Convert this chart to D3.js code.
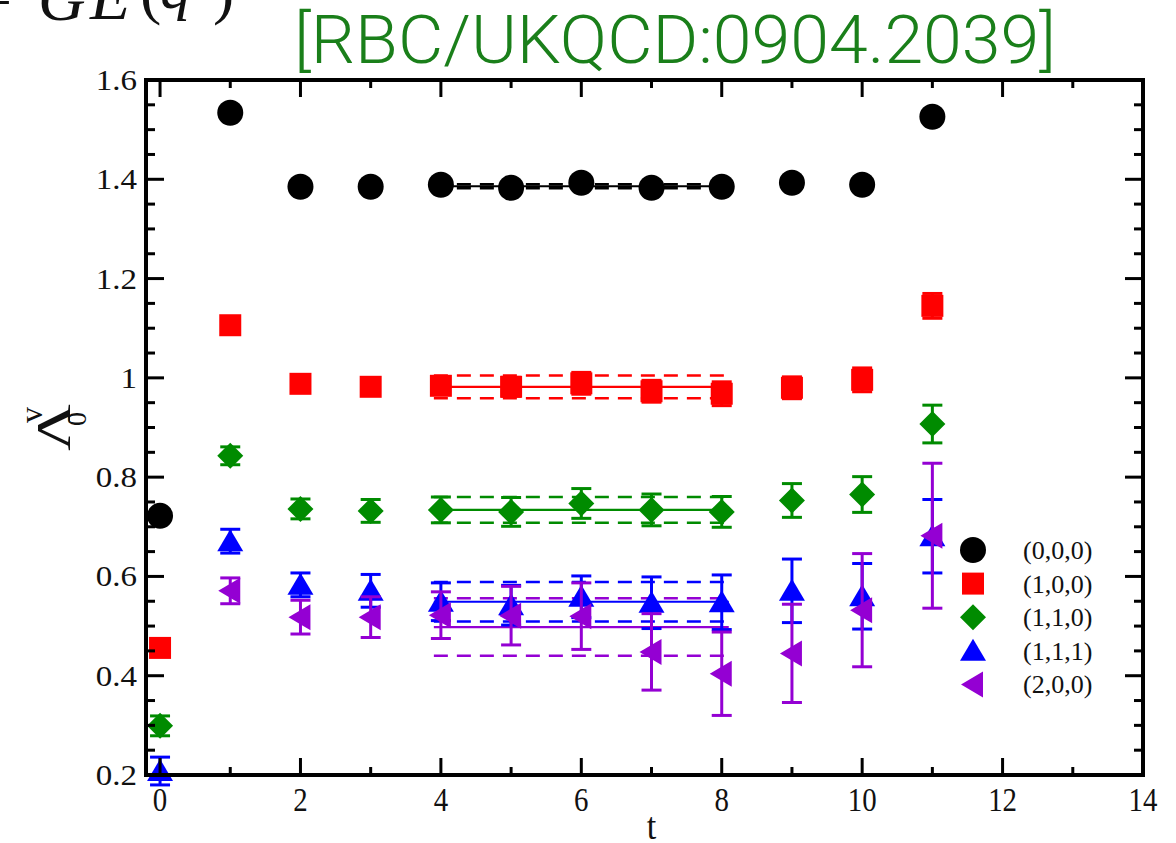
<!DOCTYPE html>
<html>
<head>
<meta charset="utf-8">
<script src="https://cdn.jsdelivr.net/npm/d3@7"></script>
<style>
  html, body { margin: 0; padding: 0; background: #fff; }
  svg { display: block; }
</style>
</head>
<body>
<script>
// ---------- data ----------
const tValues = [0, 1, 2, 3, 4, 5, 6, 7, 8, 9, 10, 11];
const legendLabels = ["(0,0,0)", "(1,0,0)", "(1,1,0)", "(1,1,1)", "(2,0,0)"];
const seriesColors = ["#000000", "#ff0000", "#008b00", "#0000ff", "#9400d3"];

const vals000 = [0.722, 1.534, 1.385, 1.385, 1.389, 1.383, 1.393, 1.383, 1.385, 1.393, 1.389, 1.526];
const errs000 = [0.003, 0.004, 0.003, 0.003, 0.003, 0.003, 0.003, 0.003, 0.003, 0.004, 0.004, 0.005];
const vals100 = [0.456, 1.106, 0.988, 0.982, 0.984, 0.982, 0.989, 0.973, 0.968, 0.980, 0.996, 1.145];
const errs100 = [0.005, 0.006, 0.006, 0.007, 0.015, 0.019, 0.022, 0.022, 0.024, 0.022, 0.024, 0.025];
const vals110 = [0.299, 0.843, 0.736, 0.732, 0.734, 0.730, 0.747, 0.734, 0.730, 0.753, 0.765, 0.907];
const errs110 = [0.020, 0.018, 0.020, 0.023, 0.026, 0.029, 0.030, 0.032, 0.031, 0.034, 0.036, 0.038];
const vals111 = [0.208, 0.671, 0.583, 0.571, 0.549, 0.542, 0.559, 0.547, 0.548, 0.571, 0.560, 0.681];
const errs111 = [0.028, 0.024, 0.024, 0.033, 0.038, 0.040, 0.042, 0.052, 0.055, 0.064, 0.066, 0.074];
const tValues200 = [1, 2, 3, 4, 5, 6, 7, 8, 9, 10, 11];
const vals200 = [0.571, 0.518, 0.518, 0.522, 0.521, 0.520, 0.448, 0.404, 0.445, 0.532, 0.682];
const errs200 = [0.026, 0.034, 0.041, 0.047, 0.059, 0.067, 0.077, 0.084, 0.099, 0.114, 0.146];

const fitValues = [1.386, 0.982, 0.734, 0.549, 0.498];
const fitErrors = [0.004, 0.023, 0.026, 0.040, 0.058];
const fitRange = [3.9, 8.1];

const xTicksMajor = [0, 2, 4, 6, 8, 10, 12, 14];
const xTicksMinor = [1, 3, 5, 7, 9, 11, 13];
const yTicksMajor = [0.2, 0.4, 0.6, 0.8, 1.0, 1.2, 1.4, 1.6];
const yTicksMinor = [0.25, 0.3, 0.35, 0.45, 0.5, 0.55, 0.65, 0.7, 0.75, 0.85, 0.9, 0.95,
                     1.05, 1.1, 1.15, 1.25, 1.3, 1.35, 1.45, 1.5, 1.55];
const titleText = "[RBC/UKQCD:0904.2039]";
const xLabel = "t";

// ---------- layout ----------
const W = 1176, H = 843;
const svg = d3.select("body").append("svg").attr("width", W).attr("height", H);

const x = d3.scaleLinear().domain([-0.2, 14]).range([146, 1143]);
const y = d3.scaleLinear().domain([0.2, 1.6]).range([775, 80]);
const serif = "'Liberation Serif', 'Times New Roman', serif";

// marker shapes (relative to the data point)
const shapes = [
  d3.symbol(d3.symbolCircle, 531)(),
  "M-11,-11h22v22h-22z",
  "M0,-13L13,0L0,13L-13,0Z",
  "M0,-12L13,10L-13,10Z",
  "M-12,0L10,-13L10,13Z"
];

const seriesList = [
  { t: tValues, v: vals000, e: errs000 },
  { t: tValues, v: vals100, e: errs100 },
  { t: tValues, v: vals110, e: errs110 },
  { t: tValues, v: vals111, e: errs111 },
  { t: tValues200, v: vals200, e: errs200 }
];

// ---------- fit bands ----------
const fitG = svg.append("g");
fitValues.forEach((fv, i) => {
  const c = seriesColors[i];
  [fv - fitErrors[i], fv + fitErrors[i]].forEach(b => {
    fitG.append("line")
      .attr("x1", x(fitRange[0])).attr("x2", x(fitRange[1]))
      .attr("y1", y(b)).attr("y2", y(b))
      .attr("stroke", c).attr("stroke-width", 2.5)
      .attr("stroke-dasharray", "14,9");
  });
  fitG.append("line")
    .attr("x1", x(fitRange[0])).attr("x2", x(fitRange[1]))
    .attr("y1", y(fv)).attr("y2", y(fv))
    .attr("stroke", c).attr("stroke-width", 2.2);
});

// ---------- series ----------
seriesList.forEach((s, i) => {
  const c = seriesColors[i];
  const g = svg.append("g");
  const pts = s.t.map((t, k) => ({ t, v: s.v[k], e: s.e[k] }));
  const eb = g.selectAll("g.eb").data(pts).join("g").attr("class", "eb");
  eb.append("line")
    .attr("x1", d => x(d.t)).attr("x2", d => x(d.t))
    .attr("y1", d => y(d.v - d.e)).attr("y2", d => y(d.v + d.e))
    .attr("stroke", c).attr("stroke-width", 3);
  [-1, 1].forEach(sg => {
    eb.append("line")
      .attr("x1", d => x(d.t) - 10).attr("x2", d => x(d.t) + 10)
      .attr("y1", d => y(d.v + sg * d.e)).attr("y2", d => y(d.v + sg * d.e))
      .attr("stroke", c).attr("stroke-width", 3);
  });
  g.selectAll("path.m").data(pts).join("path").attr("class", "m")
    .attr("d", shapes[i])
    .attr("transform", d => `translate(${x(d.t)},${y(d.v)})`)
    .attr("fill", c);
});

// ---------- frame & ticks ----------
const axG = svg.append("g").attr("stroke", "#000");
axG.append("rect")
  .attr("x", x(-0.2)).attr("y", y(1.6))
  .attr("width", x(14) - x(-0.2)).attr("height", y(0.2) - y(1.6))
  .attr("fill", "none").attr("stroke-width", 4);

[[xTicksMajor, 17], [xTicksMinor, 8]].forEach(([ticks, len]) => {
  ticks.forEach(t => {
    axG.append("line").attr("x1", x(t)).attr("x2", x(t))
      .attr("y1", y(0.2)).attr("y2", y(0.2) - len).attr("stroke-width", 3);
    axG.append("line").attr("x1", x(t)).attr("x2", x(t))
      .attr("y1", y(1.6)).attr("y2", y(1.6) + len).attr("stroke-width", 3);
  });
});
[[yTicksMajor, 18], [yTicksMinor, 9]].forEach(([ticks, len]) => {
  ticks.forEach(v => {
    axG.append("line").attr("x1", x(-0.2)).attr("x2", x(-0.2) + len)
      .attr("y1", y(v)).attr("y2", y(v)).attr("stroke-width", 3);
    axG.append("line").attr("x1", x(14)).attr("x2", x(14) - len)
      .attr("y1", y(v)).attr("y2", y(v)).attr("stroke-width", 3);
  });
});

// tick labels
const fmt = v => String(+v.toFixed(1));
svg.append("g").selectAll("text").data(yTicksMajor).join("text")
  .attr("transform", d => `translate(${x(-0.2) - 9},${y(d) + 10}) scale(1.1,1)`)
  .attr("text-anchor", "end")
  .attr("font-family", serif).attr("font-size", 30).attr("fill", "#111")
  .text(fmt);
svg.append("g").selectAll("text").data(xTicksMajor).join("text")
  .attr("transform", d => `translate(${x(d)},811) scale(0.85,1)`)
  .attr("text-anchor", "middle")
  .attr("font-family", serif).attr("font-size", 34).attr("fill", "#111")
  .text(d => d);

// axis labels
svg.append("text").attr("transform", `translate(${x(7)},839) scale(0.9,1)`)
  .attr("text-anchor", "middle")
  .attr("font-family", serif).attr("font-size", 38).attr("fill", "#111").text(xLabel);

const yl = svg.append("g").attr("transform", "translate(70,451) rotate(-90)")
  .attr("font-family", serif).attr("fill", "#111");
yl.append("text").attr("x", 0).attr("y", 0).attr("font-size", 48)
  .attr("textLength", 47).attr("lengthAdjust", "spacingAndGlyphs").text("Λ");
yl.append("text").attr("x", 28).attr("y", -28).attr("font-size", 32).text("v");
yl.append("text").attr("x", 25).attr("y", 16).attr("font-size", 28).text("0");

// title
svg.append("text").attr("x", 294).attr("y", 63)
  .attr("font-family", "Roboto, 'Liberation Sans', Arial, sans-serif")
  .attr("font-weight", 300)
  .attr("font-size", 66).attr("fill", "#1a7f1a")
  .attr("textLength", 762).attr("lengthAdjust", "spacingAndGlyphs")
  .text(titleText);

// cropped formula in the top-left corner
const fg = svg.append("g").attr("font-family", serif).attr("fill", "#111");
fg.append("text").attr("x", -22).attr("y", 16).attr("font-size", 60).text("=");
fg.append("text").attr("x", 38).attr("y", 20).attr("font-size", 66).attr("font-style", "italic").text("G");
fg.append("text").attr("x", 90).attr("y", 19).attr("font-size", 66).attr("font-style", "italic").text("E");
fg.append("text").attr("x", 140).attr("y", 12).attr("font-size", 64).text("(");
fg.append("text").attr("x", 160).attr("y", 8).attr("font-size", 62).attr("font-style", "italic").text("q");
fg.append("text").attr("x", 213).attr("y", 12).attr("font-size", 64).text(")");

// ---------- legend ----------
const lg = svg.append("g");
legendLabels.forEach((lab, i) => {
  const cy = 550 + i * 33.6;
  lg.append("path").attr("d", shapes[i])
    .attr("transform", `translate(973,${cy})`).attr("fill", seriesColors[i]);
  lg.append("text").attr("x", 1023).attr("y", cy + 9)
    .attr("font-family", serif).attr("font-size", 26).attr("fill", "#111").text(lab);
});
</script>
</body>
</html>
